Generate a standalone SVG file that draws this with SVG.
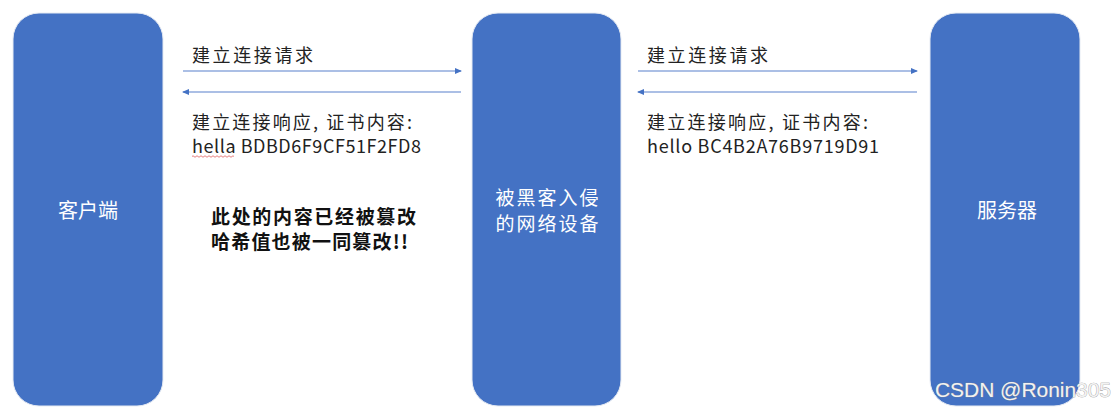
<svg xmlns="http://www.w3.org/2000/svg" width="1115" height="412" viewBox="0 0 1115 412">
<defs>
<style>
.box{fill:#4472C4;stroke:#e6ebf3;stroke-width:1}
.nl{font-family:"Noto Sans CJK SC","Noto Sans",sans-serif;font-size:20px;fill:#ffffff;text-anchor:middle}
.lbl{font-family:"Noto Sans CJK SC","Noto Sans",sans-serif;font-size:18px;fill:#222222}
.bold{font-family:"Noto Sans CJK SC","Noto Sans",sans-serif;font-size:19px;font-weight:bold;fill:#111111}
.conn{stroke:#8FAADC;stroke-width:1.5;fill:none}
.wm{font-family:"Liberation Sans","DejaVu Sans",sans-serif;font-size:21px;fill:#f2f2f2;stroke:#8a8a8a;stroke-width:0.6;paint-order:stroke}
</style>
<marker id="ah" markerWidth="8" markerHeight="8" refX="6" refY="3" orient="auto" markerUnits="userSpaceOnUse">
<path d="M0,0 L7,3 L0,6 Z" fill="#4472C4"/>
</marker>
</defs>
<rect width="1115" height="412" fill="#ffffff"/>
<g id="client">
<rect class="box" x="13" y="13" width="150" height="393" rx="26"/>
<text class="nl" x="88" y="218">客户端</text>
</g>
<g id="attacker">
<rect class="box" x="472" y="13" width="149" height="393" rx="26"/>
<text class="nl" x="547" y="205" style="font-size:19px"><tspan x="547" y="205" textLength="103">被黑客入侵</tspan><tspan x="547" y="231" textLength="103">的网络设备</tspan></text>
</g>
<g id="server">
<rect class="box" x="930" y="13" width="150" height="393" rx="26"/>
<text class="nl" x="1007" y="218">服务器</text>
</g>
<g id="connectors">
<line class="conn" x1="183" y1="71" x2="461" y2="71" marker-end="url(#ah)"/>
<line class="conn" x1="461" y1="92" x2="183" y2="92" marker-end="url(#ah)"/>
<line class="conn" x1="638" y1="71" x2="917" y2="71" marker-end="url(#ah)"/>
<line class="conn" x1="917" y1="92" x2="638" y2="92" marker-end="url(#ah)"/>
</g>
<g id="labels">
<text class="lbl" x="192" y="62" textLength="121">建立连接请求</text>
<text class="lbl" x="192" y="129" textLength="220">建立连接响应, 证书内容:</text>
<text class="lbl" x="192" y="153" textLength="229">hella BDBD6F9CF51F2FD8</text>
<path d="M192,156.5 q1,-1.5 2,0 t2,0 t2,0 t2,0 t2,0 t2,0 t2,0 t2,0 t2,0 t2,0 t2,0 t2,0 t2,0 t2,0 t2,0 t2,0 t2,0 t2,0 t2,0 t2,0 t2,0" stroke="#e06060" stroke-width="0.8" fill="none"/>
<text class="lbl" x="647" y="62" textLength="121">建立连接请求</text>
<text class="lbl" x="647" y="129" textLength="221">建立连接响应, 证书内容:</text>
<text class="lbl" x="647" y="153" textLength="232">hello BC4B2A76B9719D91</text>
<text class="bold" x="211" y="224" textLength="205">此处的内容已经被篡改</text>
<text class="bold" x="211" y="249" textLength="197">哈希值也被一同篡改!!</text>
</g>
<text class="wm" x="935" y="397" textLength="176">CSDN @Ronin305</text>
</svg>
